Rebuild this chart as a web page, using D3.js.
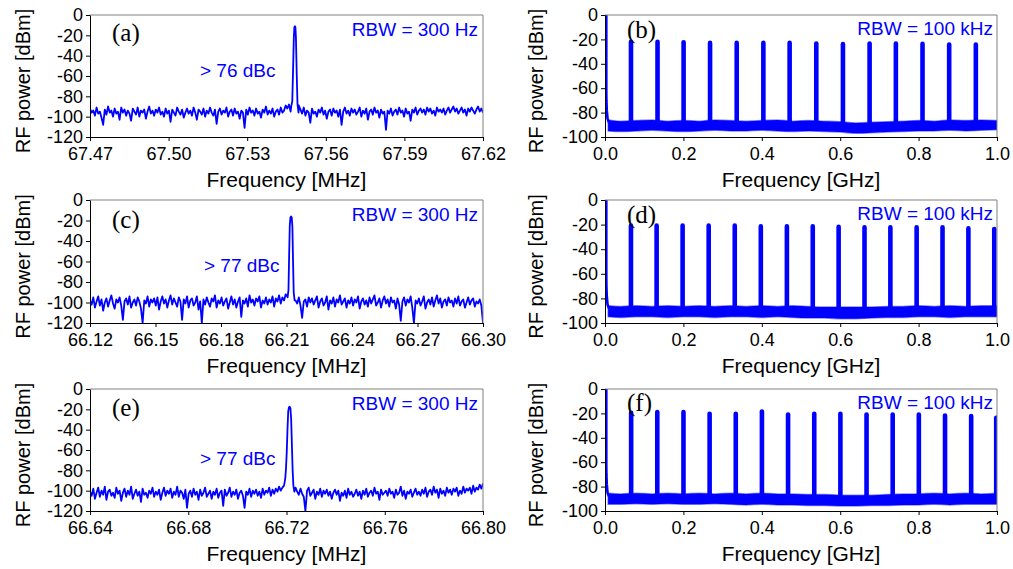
<!DOCTYPE html>
<html>
<head>
<meta charset="utf-8">
<script src="https://cdn.jsdelivr.net/npm/d3@7"></script>
<style>
  html, body { margin: 0; padding: 0; background: #fff; }
  svg { display: block; font-family: "Liberation Sans", Arial, sans-serif; }
</style>
</head>
<body>
<svg id="chart" width="1013" height="569"></svg>
<script>
// ---------------- data ----------------
// Narrow-span spectra (MHz), one sweep each, evenly spaced over the span
const spanA = [67.47, 67.62];
const spanC = [66.12, 66.30];
const spanE = [66.64, 66.80];

const noiseA = [
  -92,-96,-94,-99,-91,-97,-95,-101,-108,-93,-98,-90,-96,-94,-100,-92,-97,-95,-103,-91,
  -96,-93,-99,-94,-97,-104,-92,-95,-98,-91,-100,-94,-96,-93,-102,-95,-90,-97,-94,-99,
  -93,-96,-91,-98,-95,-100,-92,-97,-94,-105,-93,-96,-99,-91,-95,-98,-93,-101,-96,-92,
  -97,-94,-99,-91,-96,-103,-93,-95,-98,-92,-100,-94,-97,-91,-96,-99,-93,-107,-95,-92,
  -98,-94,-96,-91,-100,-95,-93,-99,-92,-97,-95,-102,-94,-96,-111,-93,-98,-91,-96,-94,
  -99,-92,-97,-95,-101,-93,-96,-90,-98,-94,-97,-92,-100,-95,-93,-98,-91,-96,-94,-89,
  -92,-88,-95,-90,-94,-91,-95,-89,-93,-97,-91,-99,-94,-96,-106,-92,-97,-95,-100,-93,
  -96,-91,-98,-94,-102,-95,-93,-99,-92,-96,-94,-100,-93,-108,-95,-91,-97,-94,-99,-92,
  -96,-93,-98,-95,-91,-100,-94,-97,-92,-103,-95,-93,-98,-91,-96,-94,-101,-93,-97,-95,
  -113,-94,-97,-92,-99,-95,-93,-98,-91,-96,-94,-100,-92,-97,-95,-104,-93,-96,-91,-98,
  -94,-92,-96,-93,-98,-91,-95,-92,-97,-94,-99,-91,-95,-93,-96,-92,-98,-94,-91,-96,
  -93,-90,-95,-92,-97,-94,-91,-96,-93,-99,-92,-95,-91,-94,-97,-93,-90,-95,-92,-96
];
const noiseC = [
  -98,-102,-95,-105,-99,-94,-103,-97,-108,-100,-96,-104,-98,-93,-101,-106,-97,-100,-95,-103,
  -117,-99,-96,-102,-94,-105,-100,-97,-103,-95,-99,-106,-120,-98,-101,-94,-104,-97,-100,-96,
  -103,-95,-107,-99,-94,-101,-97,-105,-98,-93,-102,-96,-100,-104,-95,-99,-117,-97,-101,-94,
  -105,-98,-96,-103,-100,-94,-107,-99,-120,-97,-102,-95,-100,-104,-96,-99,-93,-105,-98,-101,
  -95,-103,-99,-96,-106,-100,-94,-102,-97,-105,-99,-95,-114,-98,-101,-96,-104,-93,-100,-97,
  -103,-96,-99,-94,-105,-98,-101,-95,-102,-97,-100,-94,-104,-96,-99,-93,-101,-95,-98,-92,
  -94,-93,-95,-92,-96,-98,-101,-95,-103,-115,-99,-97,-104,-95,-100,-96,-102,-98,-94,-105,
  -99,-96,-103,-100,-94,-107,-98,-101,-95,-104,-97,-100,-93,-102,-99,-96,-105,-98,-101,-95,
  -103,-97,-100,-94,-106,-99,-96,-102,-98,-104,-95,-101,-97,-93,-103,-100,-96,-105,-98,-94,
  -101,-97,-104,-95,-100,-98,-106,-96,-102,-118,-99,-95,-103,-97,-100,-94,-105,-120,-98,-101,
  -96,-103,-99,-94,-106,-100,-97,-102,-95,-104,-98,-93,-101,-96,-105,-99,-97,-103,-95,-100,
  -98,-104,-96,-101,-94,-103,-99,-97,-105,-100,-95,-102,-98,-96,-104,-99,-101,-97,-103,-120
];
const noiseE = [
  -101,-105,-98,-108,-102,-97,-106,-100,-104,-96,-109,-101,-99,-105,-102,-107,-97,-103,-100,-110,
  -102,-98,-106,-100,-104,-96,-108,-103,-99,-105,-101,-111,-98,-104,-102,-107,-100,-103,-97,-106,
  -101,-104,-99,-109,-102,-97,-105,-100,-103,-98,-107,-101,-104,-96,-106,-100,-102,-108,-99,-117,
  -103,-100,-106,-98,-104,-101,-109,-99,-105,-102,-97,-106,-103,-100,-108,-101,-104,-98,-107,-102,
  -100,-115,-99,-105,-102,-97,-106,-101,-104,-99,-108,-102,-100,-105,-117,-101,-104,-98,-106,-100,
  -103,-99,-105,-101,-107,-98,-104,-100,-102,-97,-105,-99,-103,-98,-101,-96,-100,-97,-95,-99,
  -97,-100,-98,-96,-99,-97,-101,-104,-98,-103,-106,-120,-100,-97,-105,-102,-99,-108,-101,-104,
  -98,-106,-100,-103,-99,-105,-101,-108,-102,-99,-104,-100,-110,-102,-105,-100,-107,-98,-104,-101,
  -106,-103,-99,-105,-101,-108,-100,-104,-98,-106,-102,-100,-105,-97,-103,-101,-109,-99,-104,-102,
  -100,-105,-98,-103,-101,-107,-99,-104,-102,-96,-105,-100,-108,-101,-103,-99,-106,-102,-98,-104,
  -101,-105,-99,-103,-97,-106,-101,-99,-104,-96,-102,-99,-107,-98,-103,-100,-105,-97,-102,-99,
  -104,-98,-101,-97,-105,-100,-103,-96,-102,-98,-100,-97,-103,-95,-101,-97,-99,-94,-98,-93
];

// Carrier line of each narrow sweep (MHz, dBm)
const peakFreqA  = [67.5468, 67.5472, 67.5475, 67.5478, 67.5480, 67.5482, 67.5484, 67.5486, 67.5489, 67.5492, 67.5496];
const peakLevelA = [-90, -85, -55, -22, -12, -11, -12, -22, -58, -88, -96];
const peakFreqC  = [66.2105, 66.2109, 66.2112, 66.2115, 66.2118, 66.2121, 66.2124, 66.2127, 66.2130, 66.2133, 66.2137];
const peakLevelC = [-95, -88, -55, -25, -17, -16, -17, -26, -60, -90, -98];
const peakFreqE  = [66.7190, 66.7195, 66.7198, 66.7201, 66.7204, 66.7207, 66.7210, 66.7213, 66.7216, 66.7219, 66.7222, 66.7225, 66.7228, 66.7232];
const peakLevelE = [-95, -88, -78, -62, -40, -22, -18, -17.5, -19, -30, -55, -80, -95, -101];

// Wide-span spectra (GHz): comb lines, noise-floor envelope and DC line
const combFreqB  = [0.0663, 0.134, 0.2005, 0.268, 0.336, 0.404, 0.471, 0.539, 0.607, 0.675, 0.742, 0.810, 0.878, 0.946];
const combLevelB = [-20, -20, -20.5, -21, -21, -21, -21, -21.5, -22, -21.5, -21.5, -21.8, -22.3, -22.3];
const combFreqD  = [0.0662, 0.1317, 0.198, 0.2645, 0.331, 0.3975, 0.464, 0.530, 0.596, 0.662, 0.728, 0.795, 0.861, 0.927, 0.993];
const combLevelD = [-19, -19, -19, -19, -19, -19.6, -19.6, -19.6, -20, -20.4, -20.4, -20.4, -20.4, -21.2, -21.7];
const combFreqF  = [0.0667, 0.1334, 0.2002, 0.2669, 0.3336, 0.4003, 0.467, 0.5338, 0.6005, 0.6672, 0.7339, 0.8006, 0.8674, 0.9341, 0.998];
const combLevelF = [-17.6, -17, -17, -18.4, -18.4, -16.5, -19, -18.5, -18.5, -19, -19, -19, -19.8, -20.3, -21.7];

const floorFreqs  = [0.008, 0.04, 0.08, 0.12, 0.16, 0.2, 0.24, 0.28, 0.32, 0.36, 0.4, 0.44, 0.48, 0.52, 0.56, 0.6, 0.64, 0.68, 0.72, 0.76, 0.8, 0.84, 0.88, 0.92, 0.96, 1.0];
const floorUpperB = [-86, -87, -86.5, -86, -87, -86.5, -87, -86, -86.5, -87, -86.5, -86, -87, -86.5, -87, -87.5, -88.5, -88, -87.5, -87, -86.5, -87, -86, -86.5, -86, -86.5];
const floorLowerB = [-95, -95.5, -95, -94.5, -95, -95.5, -95, -94.5, -95, -95, -94.5, -95, -95.5, -95, -95.5, -96, -97, -96.5, -96, -95.5, -95, -95, -94.5, -95, -94.5, -94];
const floorUpperD = [-86, -86.5, -86, -86.5, -86, -86.5, -86, -86.5, -86, -86.5, -86, -86.5, -86, -86.5, -87, -87, -87, -87, -86.5, -86.5, -86, -86.5, -86, -86.5, -86, -86];
const floorLowerD = [-95, -95.5, -95, -95, -95.5, -95, -95, -95.5, -95, -95, -95.5, -95, -95.5, -96, -96, -96.5, -96.5, -96, -95.5, -95.5, -95, -95, -95.5, -95, -95, -95];
const floorUpperF = [-85.5, -86, -85.5, -86, -85.5, -86, -85.5, -86, -85.5, -86, -85.5, -86, -86, -86.5, -86.5, -87, -87, -87, -86.5, -86, -86, -85.5, -86, -85.5, -86, -85.5];
const floorLowerF = [-94.5, -94.5, -94, -94.5, -94, -94.5, -94.5, -94, -94.5, -95, -94.5, -95, -95, -95.5, -95.5, -96, -96, -95.5, -95.5, -95, -95, -94.5, -95, -94.5, -94.5, -94.5];

const dcFreqs  = [0.0033, 0.0033, 0.0036, 0.0045, 0.0065, 0.010];
const dcLevels = [5, -62, -70, -78, -85, -88];

// Axis ticks and texts
const powerTicksNarrow = [0, -20, -40, -60, -80, -100, -120];
const powerLabelsNarrow = ["0", "-20", "-40", "-60", "-80", "-100", "-120"];
const powerTicksWide = [0, -20, -40, -60, -80, -100];
const powerLabelsWide = ["0", "-20", "-40", "-60", "-80", "-100"];
const freqTicksA = [67.47, 67.50, 67.53, 67.56, 67.59, 67.62];
const freqLabelsA = ["67.47", "67.50", "67.53", "67.56", "67.59", "67.62"];
const freqTicksC = [66.12, 66.15, 66.18, 66.21, 66.24, 66.27, 66.30];
const freqLabelsC = ["66.12", "66.15", "66.18", "66.21", "66.24", "66.27", "66.30"];
const freqTicksE = [66.64, 66.68, 66.72, 66.76, 66.80];
const freqLabelsE = ["66.64", "66.68", "66.72", "66.76", "66.80"];
const freqTicksGHz = [0, 0.2, 0.4, 0.6, 0.8, 1.0];
const freqLabelsGHz = ["0.0", "0.2", "0.4", "0.6", "0.8", "1.0"];

const panelTags = ["(a)", "(b)", "(c)", "(d)", "(e)", "(f)"];
const rbwNarrow = "RBW = 300 Hz";
const rbwWide = "RBW = 100 kHz";
const dbcTexts = ["> 76 dBc", "> 77 dBc", "> 77 dBc"];
const yTitle = "RF power [dBm]";
const xTitleNarrow = "Frequency [MHz]";
const xTitleWide = "Frequency [GHz]";

// ---------------- layout ----------------
const svg = d3.select("#chart");
const BLUE = "#0000ff";
const colL = { x0: 90, x1: 483, titleX: 29.5 };
const colR = { x0: 605, x1: 997, titleX: 542.5 };
const rows = [
  { y0: 15, y1: 137 },
  { y0: 200, y1: 323 },
  { y0: 389, y1: 511 }
];

const narrowPanels = [
  { span: spanA, noise: noiseA, pf: peakFreqA, pl: peakLevelA, ticks: freqTicksA, labels: freqLabelsA, tag: panelTags[0], dbc: dbcTexts[0], dbcX: 200, dbcDy: 62, tagDy: 25.5 },
  { span: spanC, noise: noiseC, pf: peakFreqC, pl: peakLevelC, ticks: freqTicksC, labels: freqLabelsC, tag: panelTags[2], dbc: dbcTexts[1], dbcX: 204, dbcDy: 72, tagDy: 28 },
  { span: spanE, noise: noiseE, pf: peakFreqE, pl: peakLevelE, ticks: freqTicksE, labels: freqLabelsE, tag: panelTags[4], dbc: dbcTexts[2], dbcX: 200, dbcDy: 76, tagDy: 27 }
];
const widePanels = [
  { cf: combFreqB, cl: combLevelB, up: floorUpperB, lo: floorLowerB, tag: panelTags[1], tagDy: 22.5 },
  { cf: combFreqD, cl: combLevelD, up: floorUpperD, lo: floorLowerD, tag: panelTags[3], tagDy: 22.5 },
  { cf: combFreqF, cl: combLevelF, up: floorUpperF, lo: floorLowerF, tag: panelTags[5], tagDy: 21.5 }
];

let clipId = 0;
function frame(g, col, row, x, y, yTicks, yLabels, xTicks, xLabels, xTitle) {
  // gray top/right border
  g.append("path")
    .attr("d", `M${col.x0},${row.y0}H${col.x1}V${row.y1}`)
    .attr("fill", "none").attr("stroke", "#808080").attr("stroke-width", 1);

  const ax = g.append("g").attr("transform", `translate(0,${row.y1})`)
    .call(d3.axisBottom(x).tickValues(xTicks).tickFormat((d, i) => xLabels[i])
      .tickSize(4).tickSizeOuter(0).tickPadding(6));
  const ay = g.append("g").attr("transform", `translate(${col.x0},0)`)
    .call(d3.axisLeft(y).tickValues(yTicks).tickFormat((d, i) => yLabels[i])
      .tickSize(4).tickSizeOuter(0).tickPadding(3));
  [ax, ay].forEach(a => {
    a.attr("font-family", "Liberation Sans, Arial, sans-serif").attr("font-size", 18);
    a.selectAll("text").attr("fill", "#000");
    a.selectAll("line,path").attr("stroke", "#000");
  });

  g.append("text")
    .attr("x", (col.x0 + col.x1) / 2).attr("y", row.y1 + 49.5)
    .attr("text-anchor", "middle").attr("font-size", 21).attr("fill", "#000")
    .text(xTitle);
  g.append("text")
    .attr("transform", `translate(${col.titleX},${(row.y0 + row.y1) / 2 + 5}) rotate(-90)`)
    .attr("text-anchor", "middle").attr("font-size", 20).attr("fill", "#000")
    .text(yTitle);
}

function clipFor(col, row) {
  const id = "clip" + (clipId++);
  svg.append("clipPath").attr("id", id).append("rect")
    .attr("x", col.x0).attr("y", row.y0)
    .attr("width", col.x1 - col.x0).attr("height", row.y1 - row.y0);
  return `url(#${id})`;
}

// ---------------- narrow-span panels ----------------
narrowPanels.forEach((p, k) => {
  const row = rows[k], col = colL;
  const g = svg.append("g");
  const x = d3.scaleLinear().domain(p.span).range([col.x0, col.x1]);
  const y = d3.scaleLinear().domain([-120, 0]).range([row.y1, row.y0]);

  const n = p.noise.length;
  const sweep = p.noise.map((v, i) => ({ f: p.span[0] + (p.span[1] - p.span[0]) * i / (n - 1), v }));
  const lo = d3.min(p.pf), hi = d3.max(p.pf);
  const trace = sweep.filter(d => d.f < lo || d.f > hi)
    .concat(p.pf.map((f, i) => ({ f, v: p.pl[i] })))
    .sort((a, b) => a.f - b.f);

  g.append("path")
    .datum(trace)
    .attr("clip-path", clipFor(col, row))
    .attr("d", d3.line().x(d => x(d.f)).y(d => y(d.v)))
    .attr("fill", "none").attr("stroke", BLUE).attr("stroke-width", 1.8)
    .attr("stroke-linejoin", "round");

  frame(g, col, row, x, y, powerTicksNarrow, powerLabelsNarrow, p.ticks, p.labels, xTitleNarrow);

  g.append("text").attr("x", 112).attr("y", row.y0 + p.tagDy)
    .attr("font-family", "Liberation Serif, 'Times New Roman', serif").attr("font-size", 25)
    .attr("fill", "#000").text(p.tag);
  g.append("text").attr("x", col.x1 - 5).attr("y", row.y0 + 20.5)
    .attr("text-anchor", "end").attr("font-size", 19).attr("fill", BLUE).text(rbwNarrow);
  g.append("text").attr("x", p.dbcX).attr("y", row.y0 + p.dbcDy)
    .attr("font-size", 19).attr("fill", BLUE).text(p.dbc);
});

// ---------------- wide-span panels ----------------
widePanels.forEach((p, k) => {
  const row = rows[k], col = colR;
  const g = svg.append("g");
  const x = d3.scaleLinear().domain([0, 1]).range([col.x0, col.x1]);
  const y = d3.scaleLinear().domain([-100, 0]).range([row.y1, row.y0]);
  const clip = clipFor(col, row);
  const plot = g.append("g").attr("clip-path", clip);

  // noise floor band
  const band = floorFreqs.map((f, i) => ({ f, up: p.up[i], lo: p.lo[i] }));
  plot.append("path").datum(band)
    .attr("d", d3.area().x(d => x(d.f)).y0(d => y(d.lo)).y1(d => y(d.up)).curve(d3.curveMonotoneX))
    .attr("fill", BLUE).attr("stroke", BLUE).attr("stroke-opacity", 0.45).attr("stroke-width", 1.5);

  // comb lines
  const capR = 2.3;
  p.cf.forEach((f, i) => {
    plot.append("path")
      .attr("d", `M${x(f)},${y(-91)}V${y(p.cl[i]) + capR}`)
      .attr("stroke", BLUE).attr("stroke-width", 4.6).attr("stroke-linecap", "round").attr("fill", "none");
  });

  // DC line
  plot.append("path")
    .datum(dcFreqs.map((f, i) => ({ f, v: dcLevels[i] })))
    .attr("d", d3.line().x(d => x(d.f)).y(d => y(d.v)))
    .attr("fill", "none").attr("stroke", BLUE).attr("stroke-width", 2.6);

  frame(g, col, row, x, y, powerTicksWide, powerLabelsWide, freqTicksGHz, freqLabelsGHz, xTitleWide);

  g.append("text").attr("x", 627).attr("y", row.y0 + p.tagDy)
    .attr("font-family", "Liberation Serif, 'Times New Roman', serif").attr("font-size", 25)
    .attr("fill", "#000").text(p.tag);
  g.append("text").attr("x", col.x1 - 4).attr("y", row.y0 + 19.5)
    .attr("text-anchor", "end").attr("font-size", 19).attr("fill", BLUE).text(rbwWide);
});
</script>
</body>
</html>
